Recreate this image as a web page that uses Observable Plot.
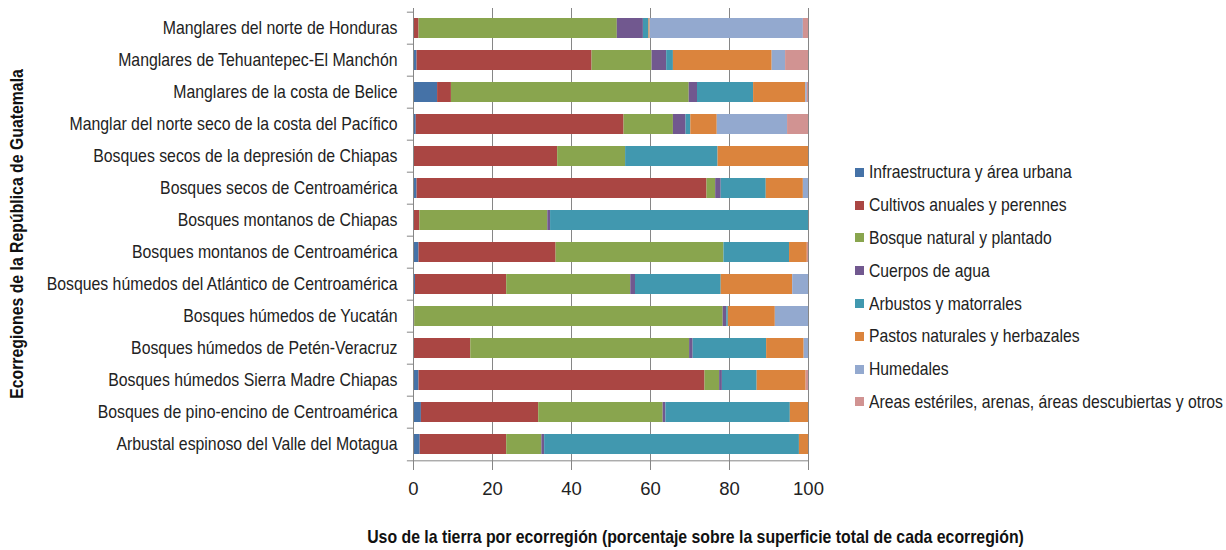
<!DOCTYPE html>
<html>
<head>
<meta charset="utf-8">
<script src="https://cdn.jsdelivr.net/npm/d3@7"></script>
<script src="https://cdn.jsdelivr.net/npm/@observablehq/plot@0.6"></script>
<style>
  html, body { margin: 0; padding: 0; background: #fff; }
  #wrap { position: relative; width: 1226px; height: 550px; }
  #legend { position: absolute; left: 855px; top: 156px; font-family: "Liberation Sans", Arial, sans-serif; font-size: 18.5px; color: #222; }
  .item { height: 32.8px; display: flex; align-items: center; white-space: nowrap; }
  .sw { width: 9px; height: 9px; margin-right: 5px; flex: none; }
  .lt { display: inline-block; transform: scaleX(0.85); transform-origin: left center; }
</style>
</head>
<body>
<div id="wrap"><div id="legend"></div></div>
<script>
const categories = [
  "Manglares del norte de Honduras",
  "Manglares de Tehuantepec-El Manchón",
  "Manglares de la costa de Belice",
  "Manglar del norte seco de la costa del Pacífico",
  "Bosques secos de la depresión de Chiapas",
  "Bosques secos de Centroamérica",
  "Bosques montanos de Chiapas",
  "Bosques montanos de Centroamérica",
  "Bosques húmedos del Atlántico de Centroamérica",
  "Bosques húmedos de Yucatán",
  "Bosques húmedos de Petén-Veracruz",
  "Bosques húmedos Sierra Madre Chiapas",
  "Bosques de pino-encino de Centroamérica",
  "Arbustal espinoso del Valle del Motagua"
];
const seriesNames = [
  "Infraestructura y área urbana",
  "Cultivos anuales y perennes",
  "Bosque natural y plantado",
  "Cuerpos de agua",
  "Arbustos y matorrales",
  "Pastos naturales y herbazales",
  "Humedales",
  "Areas estériles, arenas, áreas descubiertas y otros"
];
const colors = ["#4572A7", "#AA4643", "#89A54E", "#71588F", "#4198AF", "#DB843D", "#93A9CF", "#D19392"];

const infraestructura = [0.2, 0.9, 6.1, 0.7, 0.1, 0.9, 0.1, 1.4, 0.5, 0.0, 0.1, 1.4, 2.0, 1.7];
const cultivos        = [1.2, 44.3, 3.5, 52.6, 36.4, 73.4, 1.5, 34.7, 23.1, 0.3, 14.4, 72.4, 29.7, 21.9];
const bosque          = [50.2, 15.2, 60.2, 12.5, 17.2, 2.2, 32.4, 42.5, 31.4, 78.1, 55.4, 3.7, 31.5, 8.9];
const agua            = [6.6, 3.7, 2.1, 3.2, 0.0, 1.4, 0.7, 0.0, 1.2, 0.9, 0.9, 0.7, 0.7, 0.7];
const arbustos        = [1.4, 1.7, 14.2, 1.2, 23.4, 11.4, 65.3, 16.6, 21.7, 0.4, 18.6, 8.8, 31.5, 64.5];
const pastos          = [0.3, 25.0, 13.2, 6.7, 22.9, 9.4, 0.0, 4.5, 18.1, 11.9, 9.5, 12.4, 4.6, 2.3];
const humedales       = [38.8, 3.4, 0.4, 17.8, 0.0, 1.3, 0.0, 0.0, 4.0, 8.4, 1.1, 0.0, 0.0, 0.0];
const esteriles       = [1.3, 5.8, 0.3, 5.3, 0.0, 0.0, 0.0, 0.3, 0.0, 0.0, 0.0, 0.6, 0.0, 0.0];
const xTicks = [0, 20, 40, 60, 80, 100];

const valueSets = [infraestructura, cultivos, bosque, agua, arbustos, pastos, humedales, esteriles];
const data = [];
categories.forEach((c, i) => {
  seriesNames.forEach((s, j) => {
    data.push({ region: c, uso: s, valor: valueSets[j][i] });
  });
});

const regular = '"Liberation Sans", Arial, sans-serif';
const grid = "#868686";
const step = (465 - 8) / categories.length;

const chart = Plot.plot({
  width: 1226,
  height: 550,
  marginLeft: 413,
  marginRight: 418,
  marginTop: 8,
  marginBottom: 85,
  style: { fontFamily: regular, color: "#222", background: "#fff", overflow: "visible" },
  x: { domain: [0, 100] },
  y: { domain: categories, paddingInner: 0.365, paddingOuter: 0.1825 },
  color: { domain: seriesNames, range: colors },
  marks: [
    Plot.ruleX(xTicks.filter(d => d > 0), { stroke: grid, strokeWidth: 1 }),
    Plot.barX(data, { x: "valor", y: "region", fill: "uso", order: seriesNames }),
    Plot.ruleX([0], { stroke: grid, strokeWidth: 1 }),
    Plot.ruleY(categories, { y: d => d, x1: -1.55, x2: 0, dy: -step / 2, stroke: grid }),
    Plot.ruleY([categories[categories.length - 1]], { y: d => d, x1: -1.55, x2: 100, dy: step / 2, stroke: grid }),
    Plot.axisX({ ticks: xTicks, tickSize: 5, tickPadding: 11, stroke: grid, fontSize: 18.5, fill: "#222", label: null }),
    Plot.axisY({ tickSize: 0, tickPadding: 16, fontSize: 18.5, fill: "#222", label: null, className: "squeeze" }),
    Plot.text(["Uso de la tierra por ecorregión (porcentaje sobre la superficie total de cada ecorregión)"], {
      frameAnchor: "bottom", dy: 72, dx: 84.5, fontSize: 18.5, fontWeight: "bold", fill: "#111", lineAnchor: "middle", className: "squeeze"
    }),
    Plot.text(["Ecorregiones de la República de Guatemala"], {
      frameAnchor: "left", dx: -396, dy: -3, rotate: -90, fontSize: 18.5, fontWeight: "bold", fill: "#111", lineAnchor: "middle", textAnchor: "middle", className: "squeeze"
    })
  ]
});
document.getElementById("wrap").prepend(chart);

// condense the text horizontally, as in the reference
chart.querySelectorAll(".squeeze text").forEach(t => {
  const len = t.getComputedTextLength();
  if (len > 0) {
    t.setAttribute("textLength", (len * 0.855).toFixed(2));
    t.setAttribute("lengthAdjust", "spacingAndGlyphs");
  }
});

const legend = document.getElementById("legend");
seriesNames.forEach((s, j) => {
  const item = document.createElement("div");
  item.className = "item";
  const sw = document.createElement("span");
  sw.className = "sw";
  sw.style.background = colors[j];
  const t = document.createElement("span");
  t.className = "lt";
  t.textContent = s;
  item.append(sw, t);
  legend.append(item);
});
</script>
</body>
</html>
